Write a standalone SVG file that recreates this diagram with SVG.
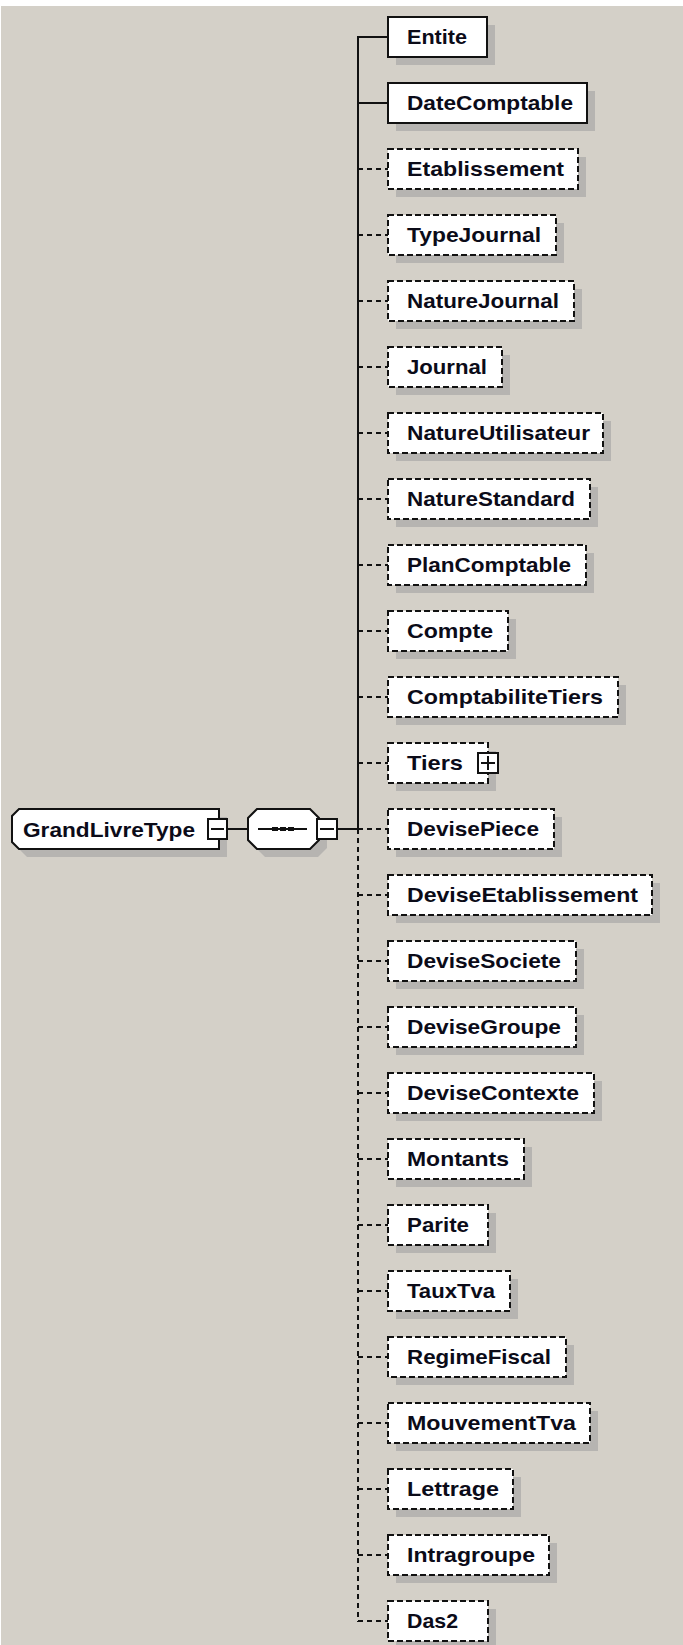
<svg xmlns="http://www.w3.org/2000/svg" width="683" height="1645" viewBox="0 0 683 1645">
<style>
.bx{fill:#fff;stroke:#111;stroke-width:2}
.opt{stroke-dasharray:6,3}
.sh{fill:#b6b4b1}
.t{font-family:"Liberation Sans",Arial,sans-serif;font-weight:bold;font-size:21px;fill:#0b0b18}
.ln{stroke:#111;stroke-width:2;fill:none}
.dl{stroke:#111;stroke-width:2;fill:none;stroke-dasharray:5,4}
.tg{fill:#fff;stroke:#111;stroke-width:2}
</style>
<rect width="683" height="1645" fill="#fff"/>
<rect x="1" y="6" width="682" height="1639" fill="#d4d0c8"/>

<g id="connectors">
<line class="ln" x1="227" y1="829" x2="248" y2="829"/>
<line class="ln" x1="337" y1="829" x2="358" y2="829"/>
<line class="ln" x1="358" y1="36" x2="358" y2="830"/>
<line class="dl" x1="358" y1="829" x2="358" y2="1622"/>
<line class="ln" x1="358" y1="37" x2="388" y2="37"/>
<line class="ln" x1="358" y1="103" x2="388" y2="103"/>
<line class="dl" x1="358" y1="169" x2="388" y2="169"/>
<line class="dl" x1="358" y1="235" x2="388" y2="235"/>
<line class="dl" x1="358" y1="301" x2="388" y2="301"/>
<line class="dl" x1="358" y1="367" x2="388" y2="367"/>
<line class="dl" x1="358" y1="433" x2="388" y2="433"/>
<line class="dl" x1="358" y1="499" x2="388" y2="499"/>
<line class="dl" x1="358" y1="565" x2="388" y2="565"/>
<line class="dl" x1="358" y1="631" x2="388" y2="631"/>
<line class="dl" x1="358" y1="697" x2="388" y2="697"/>
<line class="dl" x1="358" y1="763" x2="388" y2="763"/>
<line class="dl" x1="358" y1="829" x2="388" y2="829"/>
<line class="dl" x1="358" y1="895" x2="388" y2="895"/>
<line class="dl" x1="358" y1="961" x2="388" y2="961"/>
<line class="dl" x1="358" y1="1027" x2="388" y2="1027"/>
<line class="dl" x1="358" y1="1093" x2="388" y2="1093"/>
<line class="dl" x1="358" y1="1159" x2="388" y2="1159"/>
<line class="dl" x1="358" y1="1225" x2="388" y2="1225"/>
<line class="dl" x1="358" y1="1291" x2="388" y2="1291"/>
<line class="dl" x1="358" y1="1357" x2="388" y2="1357"/>
<line class="dl" x1="358" y1="1423" x2="388" y2="1423"/>
<line class="dl" x1="358" y1="1489" x2="388" y2="1489"/>
<line class="dl" x1="358" y1="1555" x2="388" y2="1555"/>
<line class="dl" x1="358" y1="1621" x2="388" y2="1621"/>
</g>

<g id="GrandLivreType">
<path class="sh" d="M27 817 H227 V857 H27 L20 850 V824 Z"/>
<path class="bx" d="M19 809 H219 V849 H19 L12 842 V816 Z"/>
<text class="t" x="23" y="837" textLength="172" lengthAdjust="spacingAndGlyphs">GrandLivreType</text>
<rect class="tg" x="208" y="819" width="19" height="20"/>
<line class="ln" x1="211" y1="829" x2="224" y2="829"/>
</g>

<g id="sequence">
<path class="sh" d="M265 817 H318 L327 826 V848 L318 857 H265 L256 848 V826 Z"/>
<path class="bx" d="M257 809 H310 L319 818 V840 L310 849 H257 L248 840 V818 Z"/>
<line class="ln" x1="258" y1="829" x2="307" y2="829"/>
<rect x="272" y="827" width="6" height="4" fill="#111"/>
<rect x="280" y="827" width="6" height="4" fill="#111"/>
<rect x="288" y="827" width="6" height="4" fill="#111"/>
<rect class="tg" x="317" y="819" width="20" height="20"/>
<line class="ln" x1="320" y1="829" x2="334" y2="829"/>
</g>

<g id="Entite"><rect class="sh" x="396" y="25" width="99" height="40"/><rect class="bx" x="388" y="17" width="99" height="40"/><text class="t" x="407" y="44" textLength="60" lengthAdjust="spacingAndGlyphs">Entite</text></g>
<g id="DateComptable"><rect class="sh" x="396" y="91" width="199" height="40"/><rect class="bx" x="388" y="83" width="199" height="40"/><text class="t" x="407" y="110" textLength="166" lengthAdjust="spacingAndGlyphs">DateComptable</text></g>
<g id="Etablissement"><rect class="sh" x="396" y="157" width="190" height="40"/><rect class="bx opt" x="388" y="149" width="190" height="40"/><text class="t" x="407" y="176" textLength="157" lengthAdjust="spacingAndGlyphs">Etablissement</text></g>
<g id="TypeJournal"><rect class="sh" x="396" y="223" width="168" height="40"/><rect class="bx opt" x="388" y="215" width="168" height="40"/><text class="t" x="407" y="242" textLength="134" lengthAdjust="spacingAndGlyphs">TypeJournal</text></g>
<g id="NatureJournal"><rect class="sh" x="396" y="289" width="186" height="40"/><rect class="bx opt" x="388" y="281" width="186" height="40"/><text class="t" x="407" y="308" textLength="152" lengthAdjust="spacingAndGlyphs">NatureJournal</text></g>
<g id="Journal"><rect class="sh" x="396" y="355" width="114" height="40"/><rect class="bx opt" x="388" y="347" width="114" height="40"/><text class="t" x="407" y="374" textLength="80" lengthAdjust="spacingAndGlyphs">Journal</text></g>
<g id="NatureUtilisateur"><rect class="sh" x="396" y="421" width="215" height="40"/><rect class="bx opt" x="388" y="413" width="215" height="40"/><text class="t" x="407" y="440" textLength="183" lengthAdjust="spacingAndGlyphs">NatureUtilisateur</text></g>
<g id="NatureStandard"><rect class="sh" x="396" y="487" width="202" height="40"/><rect class="bx opt" x="388" y="479" width="202" height="40"/><text class="t" x="407" y="506" textLength="168" lengthAdjust="spacingAndGlyphs">NatureStandard</text></g>
<g id="PlanComptable"><rect class="sh" x="396" y="553" width="198" height="40"/><rect class="bx opt" x="388" y="545" width="198" height="40"/><text class="t" x="407" y="572" textLength="164" lengthAdjust="spacingAndGlyphs">PlanComptable</text></g>
<g id="Compte"><rect class="sh" x="396" y="619" width="120" height="40"/><rect class="bx opt" x="388" y="611" width="120" height="40"/><text class="t" x="407" y="638" textLength="86" lengthAdjust="spacingAndGlyphs">Compte</text></g>
<g id="ComptabiliteTiers"><rect class="sh" x="396" y="685" width="230" height="40"/><rect class="bx opt" x="388" y="677" width="230" height="40"/><text class="t" x="407" y="704" textLength="196" lengthAdjust="spacingAndGlyphs">ComptabiliteTiers</text></g>
<g id="Tiers"><rect class="sh" x="396" y="751" width="100" height="40"/><rect class="bx opt" x="388" y="743" width="100" height="40"/><text class="t" x="407" y="770" textLength="56" lengthAdjust="spacingAndGlyphs">Tiers</text><rect class="tg" x="478" y="753" width="20" height="20"/><line class="ln" x1="481" y1="763" x2="495" y2="763"/><line class="ln" x1="488" y1="756" x2="488" y2="770"/></g>
<g id="DevisePiece"><rect class="sh" x="396" y="817" width="166" height="40"/><rect class="bx opt" x="388" y="809" width="166" height="40"/><text class="t" x="407" y="836" textLength="132" lengthAdjust="spacingAndGlyphs">DevisePiece</text></g>
<g id="DeviseEtablissement"><rect class="sh" x="396" y="883" width="264" height="40"/><rect class="bx opt" x="388" y="875" width="264" height="40"/><text class="t" x="407" y="902" textLength="231" lengthAdjust="spacingAndGlyphs">DeviseEtablissement</text></g>
<g id="DeviseSociete"><rect class="sh" x="396" y="949" width="188" height="40"/><rect class="bx opt" x="388" y="941" width="188" height="40"/><text class="t" x="407" y="968" textLength="154" lengthAdjust="spacingAndGlyphs">DeviseSociete</text></g>
<g id="DeviseGroupe"><rect class="sh" x="396" y="1015" width="188" height="40"/><rect class="bx opt" x="388" y="1007" width="188" height="40"/><text class="t" x="407" y="1034" textLength="154" lengthAdjust="spacingAndGlyphs">DeviseGroupe</text></g>
<g id="DeviseContexte"><rect class="sh" x="396" y="1081" width="206" height="40"/><rect class="bx opt" x="388" y="1073" width="206" height="40"/><text class="t" x="407" y="1100" textLength="172" lengthAdjust="spacingAndGlyphs">DeviseContexte</text></g>
<g id="Montants"><rect class="sh" x="396" y="1147" width="136" height="40"/><rect class="bx opt" x="388" y="1139" width="136" height="40"/><text class="t" x="407" y="1166" textLength="102" lengthAdjust="spacingAndGlyphs">Montants</text></g>
<g id="Parite"><rect class="sh" x="396" y="1213" width="100" height="40"/><rect class="bx opt" x="388" y="1205" width="100" height="40"/><text class="t" x="407" y="1232" textLength="62" lengthAdjust="spacingAndGlyphs">Parite</text></g>
<g id="TauxTva"><rect class="sh" x="396" y="1279" width="122" height="40"/><rect class="bx opt" x="388" y="1271" width="122" height="40"/><text class="t" x="407" y="1298" textLength="88" lengthAdjust="spacingAndGlyphs">TauxTva</text></g>
<g id="RegimeFiscal"><rect class="sh" x="396" y="1345" width="178" height="40"/><rect class="bx opt" x="388" y="1337" width="178" height="40"/><text class="t" x="407" y="1364" textLength="144" lengthAdjust="spacingAndGlyphs">RegimeFiscal</text></g>
<g id="MouvementTva"><rect class="sh" x="396" y="1411" width="202" height="40"/><rect class="bx opt" x="388" y="1403" width="202" height="40"/><text class="t" x="407" y="1430" textLength="169" lengthAdjust="spacingAndGlyphs">MouvementTva</text></g>
<g id="Lettrage"><rect class="sh" x="396" y="1477" width="125" height="40"/><rect class="bx opt" x="388" y="1469" width="125" height="40"/><text class="t" x="407" y="1496" textLength="92" lengthAdjust="spacingAndGlyphs">Lettrage</text></g>
<g id="Intragroupe"><rect class="sh" x="396" y="1543" width="161" height="40"/><rect class="bx opt" x="388" y="1535" width="161" height="40"/><text class="t" x="407" y="1562" textLength="128" lengthAdjust="spacingAndGlyphs">Intragroupe</text></g>
<g id="Das2"><rect class="sh" x="396" y="1609" width="100" height="40"/><rect class="bx opt" x="388" y="1601" width="100" height="40"/><text class="t" x="407" y="1628" textLength="51" lengthAdjust="spacingAndGlyphs">Das2</text></g>
</svg>
